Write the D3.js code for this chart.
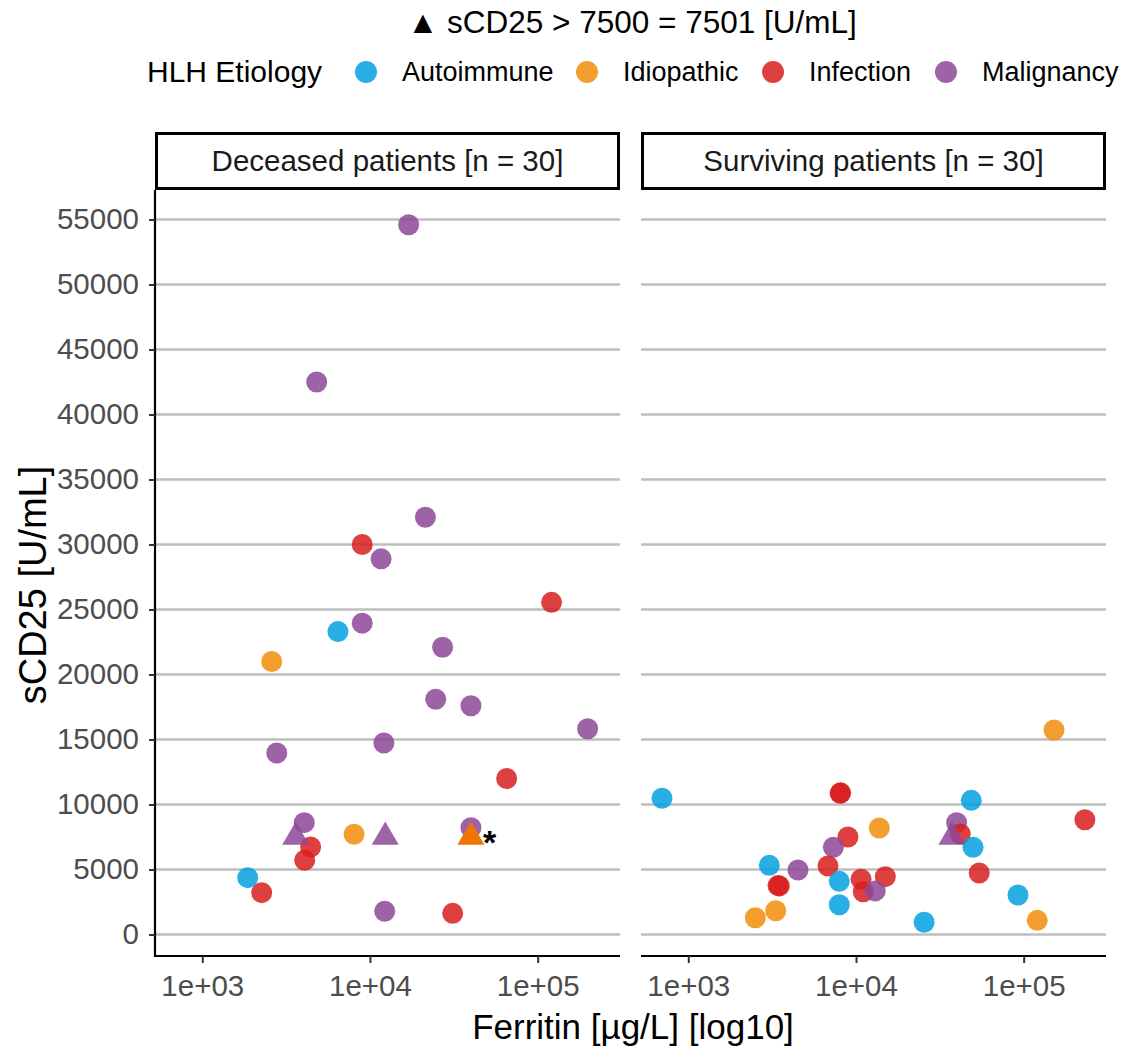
<!DOCTYPE html>
<html>
<head>
<meta charset="utf-8">
<script src="https://cdn.jsdelivr.net/npm/d3@7"></script>
<style>
  html, body { margin: 0; padding: 0; background: #fff; }
  svg { display: block; font-family: "Liberation Sans", Arial, sans-serif; }
</style>
</head>
<body>
<svg id="chart" width="1130" height="1046"></svg>
<script>
// ---------------- DATA ----------------
const etiologies = ["Autoimmune", "Idiopathic", "Infection", "Malignancy"];
const etiologyColors = ["#05A0E2", "#F28D0C", "#D81E1E", "#8C4896"];
const panels = ["Deceased patients [n = 30]", "Surviving patients [n = 30]"];
const xTicks = [1e3, 1e4, 1e5];
const yTicks = [0, 5000, 10000, 15000, 20000, 25000, 30000, 35000, 40000, 45000, 50000, 55000];

// Deceased patients (circles: measured sCD25)
const deceasedFerritin = [17000, 4810, 21400, 8990, 11650, 121000, 8990, 6440, 27100, 2595, 24660, 40000, 198600, 12100, 2780, 65300, 4055, 8040, 40000, 4426, 4080, 1866, 2260, 12240, 31130];
const deceasedSCD25    = [54600, 42500, 32100, 30000, 28900, 25550, 23950, 23300, 22100, 21000, 18100, 17600, 15830, 14730, 13960, 12000, 8600, 7710, 8220, 6730, 5710, 4370, 3220, 1790, 1630];
const deceasedEtiology = ["Malignancy","Malignancy","Malignancy","Infection","Malignancy","Infection","Malignancy","Autoimmune","Malignancy","Idiopathic","Malignancy","Malignancy","Malignancy","Malignancy","Malignancy","Infection","Malignancy","Idiopathic","Malignancy","Infection","Infection","Autoimmune","Infection","Malignancy","Infection"];
// Deceased patients with sCD25 > 7500 (plotted as 7501, triangles)
const deceasedCappedFerritin = [3607, 12330, 40000];
const deceasedCappedEtiology = ["Malignancy", "Malignancy", "Idiopathic"];
const deceasedCappedHighlight = [false, false, true];

// Surviving patients
const survivingFerritin = [697, 8040, 8100, 48700, 231700, 13770, 39830, 41880, 49900, 8955, 7330, 6810, 3042, 4510, 54300, 3430, 3490, 7950, 10720, 14960, 11060, 13030, 92500, 7950, 3320, 2511, 25480, 120500, 151700];
const survivingSCD25    = [10480, 10860, 10900, 10320, 8830, 8190, 8600, 7730, 6710, 7500, 6710, 5270, 5320, 4960, 4730, 3760, 3740, 4090, 4250, 4450, 3290, 3350, 3040, 2290, 1830, 1290, 940, 1090, 15730];
const survivingEtiology = ["Autoimmune","Infection","Infection","Autoimmune","Infection","Idiopathic","Malignancy","Infection","Autoimmune","Infection","Malignancy","Infection","Autoimmune","Malignancy","Infection","Infection","Infection","Autoimmune","Infection","Infection","Infection","Malignancy","Autoimmune","Autoimmune","Idiopathic","Idiopathic","Autoimmune","Idiopathic","Idiopathic"];
const survivingCappedFerritin = [37330];
const survivingCappedEtiology = ["Malignancy"];
const survivingCappedHighlight = [false];

const cappedValue = 7501;
const titleText = "\u25B2 sCD25 > 7500 = 7501 [U/mL]";

// ---------------- LAYOUT ----------------
const svg = d3.select("#chart");
svg.append("rect").attr("width", 1130).attr("height", 1046).attr("fill", "#fff");

const panelW = 465, panelTop = 190, panelBottom = 956;
const panelX = [155, 641];
const stripTop = 132;

const color = d3.scaleOrdinal().domain(etiologies).range(etiologyColors);
const y = d3.scaleLinear().domain([-1654, 57270]).range([panelBottom, panelTop]);
const xBase = d3.scaleLog().domain([522.4, 309700]).range([0, panelW]);

const panelData = [
  { circles: deceasedFerritin.map((f, i) => ({ f, v: deceasedSCD25[i], e: deceasedEtiology[i] })),
    tri: deceasedCappedFerritin.map((f, i) => ({ f, v: cappedValue, e: deceasedCappedEtiology[i], h: deceasedCappedHighlight[i] })) },
  { circles: survivingFerritin.map((f, i) => ({ f, v: survivingSCD25[i], e: survivingEtiology[i] })),
    tri: survivingCappedFerritin.map((f, i) => ({ f, v: cappedValue, e: survivingCappedEtiology[i], h: survivingCappedHighlight[i] })) }
];

const tickFmt = d => "1e+0" + Math.round(Math.log10(d));
const tickFont = 29.5;

panels.forEach((label, p) => {
  const x0 = panelX[p];
  const x = xBase.copy().range([x0, x0 + panelW]);
  const g = svg.append("g");

  // grid lines (major y)
  g.selectAll("line.grid").data(yTicks).enter().append("line")
    .attr("x1", x0).attr("x2", x0 + panelW)
    .attr("y1", d => y(d)).attr("y2", d => y(d))
    .attr("stroke", "#BEBEBE").attr("stroke-width", 2.5);

  // strip
  g.append("rect")
    .attr("x", x0 + 1.5).attr("y", stripTop + 1.5)
    .attr("width", panelW - 3).attr("height", panelTop - stripTop - 3)
    .attr("fill", "#fff").attr("stroke", "#000").attr("stroke-width", 3);
  g.append("text")
    .attr("x", x0 + panelW / 2).attr("y", 171)
    .attr("text-anchor", "middle").attr("font-size", 29.5).attr("fill", "#1A1A1A")
    .text(label);

  // points
  const pts = g.append("g");
  pts.selectAll("circle").data(panelData[p].circles).enter().append("circle")
    .attr("cx", d => x(d.f)).attr("cy", d => y(d.v)).attr("r", 10.5)
    .attr("fill", d => color(d.e)).attr("fill-opacity", 0.85);

  const triPath = (cx, cy) => {
    const s = 7.8, r3 = Math.sqrt(3);
    return `M${cx},${cy - 2 * s}L${cx + r3 * s},${cy + s}L${cx - r3 * s},${cy + s}Z`;
  };
  pts.selectAll("path.tri").data(panelData[p].tri).enter().append("path")
    .attr("d", d => triPath(x(d.f), y(d.v)))
    .attr("fill", d => d.h ? "#EE7500" : color(d.e))
    .attr("fill-opacity", d => d.h ? 1 : 0.85);
  panelData[p].tri.filter(d => d.h).forEach(d => {
    pts.append("text")
      .attr("x", x(d.f) + 12).attr("y", y(d.v) + 17)
      .attr("font-size", 34).attr("font-weight", "bold").attr("fill", "#000")
      .text("*");
  });

  // x axis
  const xa = g.append("g").attr("transform", `translate(0,${panelBottom})`)
    .call(d3.axisBottom(x).tickValues(xTicks).tickFormat(tickFmt).tickSize(7).tickPadding(12).tickSizeOuter(0));
  xa.select(".domain").attr("stroke", "#000").attr("stroke-width", 2.2)
    .attr("d", `M${x0},0H${x0 + panelW}`);
  xa.selectAll(".tick line").attr("stroke", "#333").attr("stroke-width", 2);
  xa.selectAll(".tick text").attr("font-size", tickFont).attr("fill", "#4D4D4D")
    .attr("font-family", "Liberation Sans, Arial, sans-serif");

  // y axis only on first panel
  if (p === 0) {
    const ya = g.append("g").attr("transform", `translate(${x0},0)`)
      .call(d3.axisLeft(y).tickValues(yTicks).tickFormat(d3.format("d")).tickSize(6).tickPadding(10).tickSizeOuter(0));
    ya.select(".domain").attr("stroke", "#000").attr("stroke-width", 2.2)
      .attr("d", `M0,${panelTop}V${panelBottom + 1}`);
    ya.selectAll(".tick line").attr("stroke", "#333").attr("stroke-width", 2);
    ya.selectAll(".tick text").attr("font-size", tickFont).attr("fill", "#4D4D4D")
      .attr("font-family", "Liberation Sans, Arial, sans-serif");
  }
});

// axis titles
svg.append("text").attr("x", 633).attr("y", 1039).attr("text-anchor", "middle")
  .attr("font-size", 35).attr("fill", "#000").text("Ferritin [\u00B5g/L] [log10]");
svg.append("text").attr("transform", "translate(46,585) rotate(-90)").attr("text-anchor", "middle")
  .attr("font-size", 38).attr("fill", "#000").text("sCD25 [U/mL]");

// title
svg.append("text").attr("x", 632).attr("y", 33).attr("text-anchor", "middle")
  .attr("font-size", 31.5).attr("fill", "#000").text(titleText);

// legend
svg.append("text").attr("x", 147).attr("y", 82).attr("font-size", 30).attr("fill", "#000").text("HLH Etiology");
const keyX = [366, 587, 773, 946];
const legend = svg.append("g");
etiologies.forEach((e, i) => {
  legend.append("circle").attr("cx", keyX[i]).attr("cy", 72).attr("r", 11)
    .attr("fill", color(e)).attr("fill-opacity", 0.85);
  legend.append("text").attr("x", keyX[i] + 36).attr("y", 81).attr("font-size", 27)
    .attr("fill", "#000").text(e);
});
</script>
</body>
</html>
